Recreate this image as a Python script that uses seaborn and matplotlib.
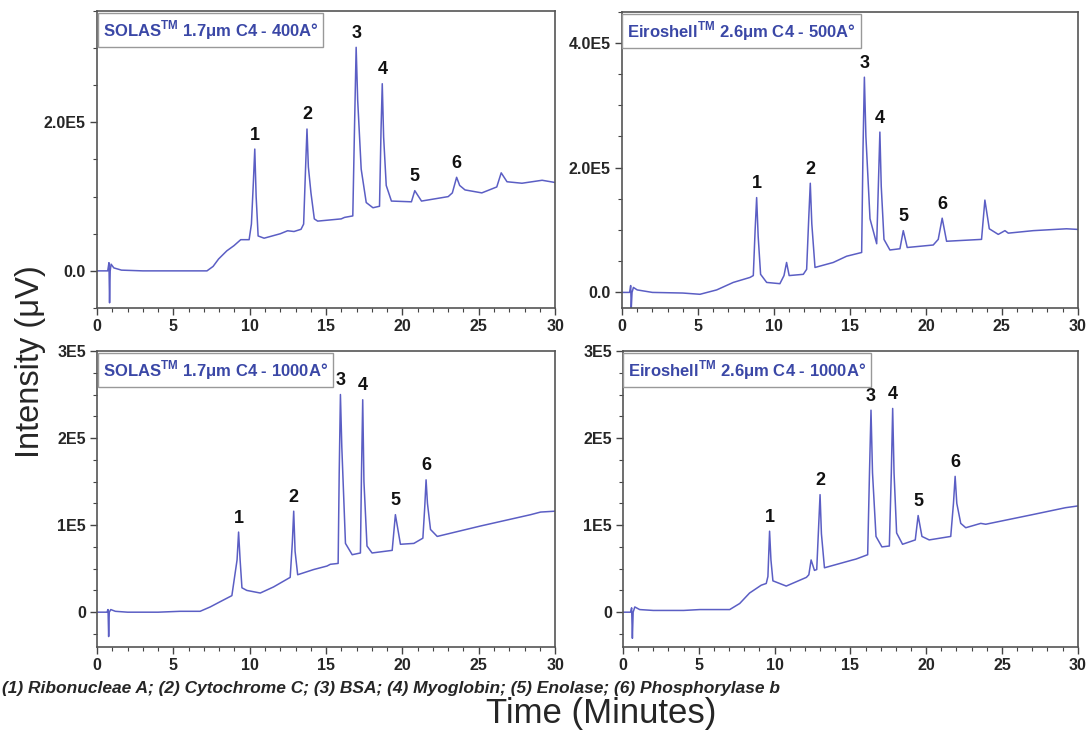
import numpy as np
import pandas as pd
import matplotlib
matplotlib.use('Agg')
import matplotlib.pyplot as plt
from matplotlib.ticker import MultipleLocator
import seaborn as sns

# retention time (min) and intensity (units of 1E5 uV)
solas400_t = [0.0, 0.7, 0.78, 0.82, 0.86, 0.92, 1.1, 1.6, 3.0, 5.0, 7.2, 7.6, 7.96, 8.5, 8.97, 9.41, 9.96,
              10.11, 10.24, 10.33, 10.42, 10.55, 10.94, 12.0, 12.48, 12.9, 13.36, 13.53, 13.66, 13.75,
              13.84, 14.01, 14.23, 14.45, 15.99, 16.21, 16.75, 16.86, 16.97, 17.07, 17.3, 17.63, 18.07,
              18.5, 18.6, 18.68, 18.77, 18.94, 19.28, 20.59, 20.81, 21.25, 23.0, 23.27, 23.55, 23.75,
              24.1, 25.2, 26.18, 26.47, 26.85, 27.83, 29.15, 30.0]
solas400_i = [0.0, 0.0, 0.11, -0.43, 0.0, 0.09, 0.04, 0.01, 0.0, 0.0, 0.0, 0.06, 0.16, 0.27, 0.34, 0.42, 0.42,
              0.63, 1.2, 1.64, 1.0, 0.47, 0.44, 0.50, 0.54, 0.53, 0.56, 0.63, 1.4, 1.91,
              1.4, 1.05, 0.70, 0.67, 0.70, 0.72, 0.74, 1.9, 3.01, 2.3, 1.37, 0.92, 0.85,
              0.87, 1.9, 2.52, 1.8, 1.15, 0.94, 0.93, 1.08, 0.94, 1.00, 1.05, 1.26, 1.15,
              1.09, 1.05, 1.13, 1.32, 1.20, 1.18, 1.22, 1.19]
solas400_peaks = [10.33, 13.75, 16.97, 18.68, 20.81, 23.55]

eiro500_t = [0.0, 0.5, 0.57, 0.61, 0.66, 0.75, 1.0, 2.0, 4.0, 5.13, 6.23, 7.32, 8.42, 8.64, 8.76, 8.86,
             8.96, 9.12, 9.52, 10.39, 10.66, 10.83, 11.0, 11.93, 12.15, 12.29, 12.39, 12.49, 12.7, 13.9,
             14.78, 15.77, 15.86, 15.95, 16.05, 16.32, 16.76, 16.88, 16.97, 17.06, 17.24, 17.63, 18.29,
             18.51, 18.77, 20.48, 20.81, 21.07, 21.36, 23.66, 23.88, 24.17, 24.76, 25.2, 25.42, 27.06,
             29.25, 30.0]
eiro500_i = [0.0, 0.0, 0.11, -0.25, 0.0, 0.08, 0.04, 0.0, -0.01, -0.03, 0.04, 0.16, 0.24, 0.27, 1.0, 1.52,
             0.9, 0.29, 0.16, 0.14, 0.27, 0.48, 0.27, 0.29, 0.37, 1.2, 1.75, 1.1, 0.40, 0.48,
             0.58, 0.64, 2.3, 3.45, 2.5, 1.18, 0.78, 1.8, 2.57, 1.7, 0.85, 0.68, 0.70,
             0.99, 0.72, 0.76, 0.85, 1.19, 0.82, 0.85, 1.48, 1.02, 0.93, 0.99, 0.95, 0.99,
             1.02, 1.01]
eiro500_peaks = [8.86, 12.39, 15.95, 16.97, 18.51, 21.07]

solas1000_t = [0.0, 0.65, 0.72, 0.76, 0.8, 0.9, 1.2, 2.0, 4.0, 5.44, 6.75, 7.41, 8.06, 8.83, 9.17, 9.27,
               9.37, 9.49, 9.81, 10.69, 11.56, 12.65, 12.79, 12.88, 12.97, 13.14, 14.19, 15.06, 15.28,
               15.79, 15.86, 15.94, 16.03, 16.27, 16.71, 17.25, 17.32, 17.4, 17.48, 17.68, 18.01, 19.33,
               19.54, 19.87, 20.75, 21.34, 21.46, 21.55, 21.64, 21.84, 22.28, 25.12, 28.4, 29.05, 30.0]
solas1000_i = [0.0, 0.0, 0.03, -0.28, 0.0, 0.03, 0.01, 0.0, 0.0, 0.01, 0.01, 0.06, 0.12, 0.19, 0.6, 0.92,
               0.6, 0.28, 0.25, 0.22, 0.29, 0.40, 0.8, 1.16, 0.7, 0.43, 0.49, 0.53, 0.55,
               0.56, 1.6, 2.50, 1.9, 0.79, 0.66, 0.68, 1.6, 2.44, 1.5, 0.76, 0.68, 0.71,
               1.12, 0.78, 0.79, 0.85, 1.2, 1.52, 1.25, 0.95, 0.87, 0.99, 1.12, 1.15, 1.16]
solas1000_peaks = [9.27, 12.88, 15.94, 17.4, 19.54, 21.55]

eiro1000_t = [0.0, 0.5, 0.57, 0.62, 0.67, 0.78, 1.1, 2.0, 4.0, 5.07, 7.04, 7.7, 8.35, 9.12, 9.45,
              9.56, 9.67, 9.76, 9.89, 10.77, 12.1, 12.26, 12.41, 12.63, 12.78, 12.91, 13.0, 13.09, 13.29,
              15.15, 15.37, 16.14, 16.26, 16.36, 16.46, 16.69, 17.08, 17.57, 17.7, 17.79, 17.88, 18.05,
              18.44, 19.28, 19.47, 19.72, 20.2, 21.62, 21.8, 21.91, 22.02, 22.28, 22.61, 23.6, 23.93,
              27.0, 29.19, 30.0]
eiro1000_i = [0.0, 0.0, 0.05, -0.3, 0.0, 0.06, 0.03, 0.02, 0.02, 0.03, 0.03, 0.10, 0.22, 0.31, 0.33,
              0.41, 0.93, 0.6, 0.36, 0.30, 0.40, 0.43, 0.60, 0.48, 0.49, 1.0, 1.35, 0.9, 0.51,
              0.60, 0.61, 0.66, 1.6, 2.32, 1.6, 0.87, 0.75, 0.76, 1.6, 2.34, 1.6, 0.91,
              0.78, 0.83, 1.11, 0.87, 0.83, 0.87, 1.25, 1.56, 1.25, 1.02, 0.97, 1.02, 1.01,
              1.12, 1.20, 1.22]
eiro1000_peaks = [9.67, 13.0, 16.36, 17.79, 19.47, 21.91]

titles = [r'SOLAS$^{\mathbf{TM}}$ 1.7μm C4 - 400A°',
          r'Eiroshell$^{\mathbf{TM}}$ 2.6μm C4 - 500A°',
          r'SOLAS$^{\mathbf{TM}}$ 1.7μm C4 - 1000A°',
          r'Eiroshell$^{\mathbf{TM}}$ 2.6μm C4 - 1000A°']
peak_labels = ['1', '2', '3', '4', '5', '6']
caption = '(1) Ribonucleae A; (2) Cytochrome C; (3) BSA; (4) Myoglobin; (5) Enolase; (6) Phosphorylase b'

sns.set_theme(style='ticks')
plt.rcParams['font.family'] = ['Liberation Sans', 'DejaVu Sans']
plt.rcParams['mathtext.fontset'] = 'custom'
plt.rcParams['mathtext.bf'] = 'Liberation Sans:bold'
plt.rcParams['mathtext.rm'] = 'Liberation Sans'

line_c = '#5b5ec4'
title_c = '#3a47a6'

fig = plt.figure(figsize=(10.88, 7.54), dpi=100)
# left, bottom, width, height in figure fraction
boxes = [[0.0892, 0.5915, 0.421, 0.394],
         [0.5717, 0.5915, 0.419, 0.393],
         [0.0892, 0.1419, 0.421, 0.3926],
         [0.5726, 0.1419, 0.418, 0.3926]]
traces = [(solas400_t, solas400_i, solas400_peaks),
          (eiro500_t, eiro500_i, eiro500_peaks),
          (solas1000_t, solas1000_i, solas1000_peaks),
          (eiro1000_t, eiro1000_i, eiro1000_peaks)]
ylims = [(-0.5e5, 3.5e5), (-0.25e5, 4.5e5), (-0.4e5, 3.0e5), (-0.4e5, 3.0e5)]
yticks = [[0, 2e5], [0, 2e5, 4e5], [0, 1e5, 2e5, 3e5], [0, 1e5, 2e5, 3e5]]
yticklabels = [['0.0', '2.0E5'], ['0.0', '2.0E5', '4.0E5'],
               ['0', '1E5', '2E5', '3E5'], ['0', '1E5', '2E5', '3E5']]
yminor = [0.5e5, 0.5e5, 0.25e5, 0.25e5]

for k in range(4):
	ax = fig.add_axes(boxes[k])
	t, i, peaks = traces[k]
	df = pd.DataFrame({'time': t, 'intensity': np.array(i) * 1e5})
	sns.lineplot(x='time', y='intensity', data=df, ax=ax, color=line_c,
		linewidth=1.1, estimator=None, sort=False)
	ax.set_xlim(0, 30)
	ax.set_ylim(*ylims[k])
	ax.set_xlabel('')
	ax.set_ylabel('')
	ax.set_xticks([0, 5, 10, 15, 20, 25, 30])
	ax.set_xticklabels(['0', '5', '10', '15', '20', '25', '30'], fontweight='bold', fontsize=11.5)
	ax.set_yticks(yticks[k])
	ax.set_yticklabels(yticklabels[k], fontweight='bold', fontsize=11.5)
	ax.xaxis.set_minor_locator(MultipleLocator(1))
	ax.yaxis.set_minor_locator(MultipleLocator(yminor[k]))
	ax.tick_params(which='major', direction='out', length=5, width=1, color='#444444', pad=3)
	ax.tick_params(which='minor', direction='out', length=3, width=0.8, color='#444444')
	for s in ax.spines.values():
		s.set_color('#555555')
		s.set_linewidth(1.2)
	for lab, pt in zip(peak_labels, peaks):
		py = np.interp(pt, df['time'], df['intensity'])
		ax.annotate(lab, (pt, py), xytext=(0, 4), textcoords='offset points',
			ha='center', va='bottom', fontsize=13, fontweight='bold', color='#111111')
	ax.text(0.012, 0.975, titles[k], transform=ax.transAxes, ha='left', va='top',
		fontsize=12, fontweight='bold', color=title_c,
		bbox=dict(boxstyle='square,pad=0.3', fc='white', ec='#999999', lw=1))

fig.text(0.028, 0.52, 'Intensity (μV)', rotation=90, ha='center', va='center', fontsize=23.5)
fig.text(0.553, 0.054, 'Time (Minutes)', ha='center', va='center', fontsize=25)
fig.text(0.002, 0.087, caption, ha='left', va='center', fontsize=12.5,
	fontweight='bold', fontstyle='italic')

fig.savefig('out.png', dpi=100)
